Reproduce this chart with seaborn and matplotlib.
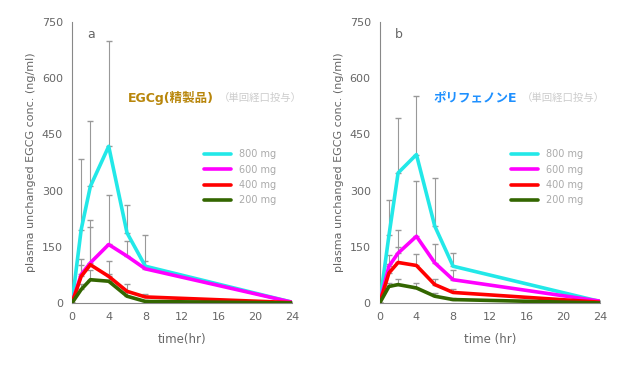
import numpy as np
import pandas as pd
import matplotlib
matplotlib.use("Agg")
import matplotlib.pyplot as plt
import seaborn as sns

# sampling times (hr)
times = [0, 1, 2, 4, 6, 8, 24]
doses = ["800 mg", "600 mg", "400 mg", "200 mg"]
colors = ["#22e8e8", "#ff00ff", "#ff0000", "#336600"]

# panel a: EGCg
egcg_mean = {
    "800 mg": [0, 196, 311, 418, 187, 98, 2],
    "600 mg": [0, 76, 107, 156, 125, 91, 2],
    "400 mg": [0, 71, 102, 71, 31, 16, 1],
    "200 mg": [0, 36, 62, 58, 18, 4, 0],
}
egcg_sd = {
    "800 mg": [0, 187, 174, 280, 75, 84, 0],
    "600 mg": [0, 40, 115, 133, 40, 20, 0],
    "400 mg": [0, 30, 100, 40, 20, 8, 0],
    "200 mg": [0, 15, 25, 20, 10, 4, 0],
}

# panel b: Polyphenon E
pe_mean = {
    "800 mg": [0, 180, 347, 396, 205, 98, 4],
    "600 mg": [0, 98, 133, 178, 107, 62, 5],
    "400 mg": [0, 80, 108, 100, 49, 28, 2],
    "200 mg": [0, 44, 49, 40, 18, 9, 0],
}
pe_sd = {
    "800 mg": [0, 96, 147, 156, 129, 35, 0],
    "600 mg": [0, 30, 63, 147, 50, 25, 0],
    "400 mg": [0, 25, 40, 30, 15, 8, 0],
    "200 mg": [0, 10, 15, 12, 8, 4, 0],
}

panels = [
    ("a", egcg_mean, egcg_sd, "EGCg(精製品)", "#b8860b", "time(hr)", 0.255),
    ("b", pe_mean, pe_sd, "ポリフェノンE", "#1e90ff", "time (hr)", 0.245),
]

sns.set_style("white")
plt.rcParams["font.family"] = ["DejaVu Sans", "Noto Sans CJK JP"]

fig = plt.figure(figsize=(6.34, 3.65), dpi=100)
ax_pos = [[0.1136, 0.170, 0.347, 0.770], [0.599, 0.170, 0.347, 0.770]]
txt_col = "#666666"

for pos, (tag, means, sds, title, tcol, xlab, tx) in zip(ax_pos, panels):
    ax = fig.add_axes(pos)
    rows = []
    for d in doses:
        for t, m in zip(times, means[d]):
            rows.append({"time": t, "conc": m, "dose": d})
    df = pd.DataFrame(rows)

    # upper-only error bars
    for d, c in zip(doses, colors):
        sd = np.array(sds[d])
        ax.errorbar(times, means[d], yerr=[np.zeros_like(sd), sd], fmt="none",
                    ecolor="#999999", elinewidth=0.8, capsize=2, zorder=1)

    sns.lineplot(data=df, x="time", y="conc", hue="dose", hue_order=doses,
                 palette=colors, linewidth=2.6, ax=ax, zorder=3)

    ax.set_xlim(0, 24)
    ax.set_ylim(0, 750)
    ax.set_xticks([0, 4, 8, 12, 16, 20, 24])
    ax.set_yticks([0, 150, 300, 450, 600, 750])
    for s in ["top", "right"]:
        ax.spines[s].set_visible(False)
    for s in ["left", "bottom"]:
        ax.spines[s].set_color("#888888")
        ax.spines[s].set_linewidth(0.8)
    ax.tick_params(axis="both", length=3, width=0.8, color="#888888",
                   labelsize=8, labelcolor=txt_col, direction="out")
    ax.set_xlabel(xlab, fontsize=8.5, color=txt_col, labelpad=8)
    ax.set_ylabel("plasma unchanged EGCG conc. (ng/ml)", fontsize=8,
                  color=txt_col, labelpad=4)

    ax.text(0.07, 0.98, tag, transform=ax.transAxes, fontsize=9,
            color=txt_col, va="top")
    t_obj = ax.text(tx, 0.73, title, transform=ax.transAxes, fontsize=9,
                    color=tcol, va="center", fontweight="bold",
                    family=["DejaVu Sans", "Noto Sans CJK JP"])
    ax.annotate("（単回経口投与）", xy=(1, 0.5), xycoords=t_obj,
                xytext=(3, 0), textcoords="offset points",
                ha="left", va="center", fontsize=7.5, color="#cccccc",
                family=["Noto Sans CJK JP", "DejaVu Sans"])

    leg = ax.legend(loc="upper left", bbox_to_anchor=(0.58, 0.56),
                    frameon=False, fontsize=7, handlelength=2.8,
                    labelspacing=0.55, borderaxespad=0)
    for t in leg.get_texts():
        t.set_color("#aaaaaa")

fig.savefig("out.png", dpi=100)
